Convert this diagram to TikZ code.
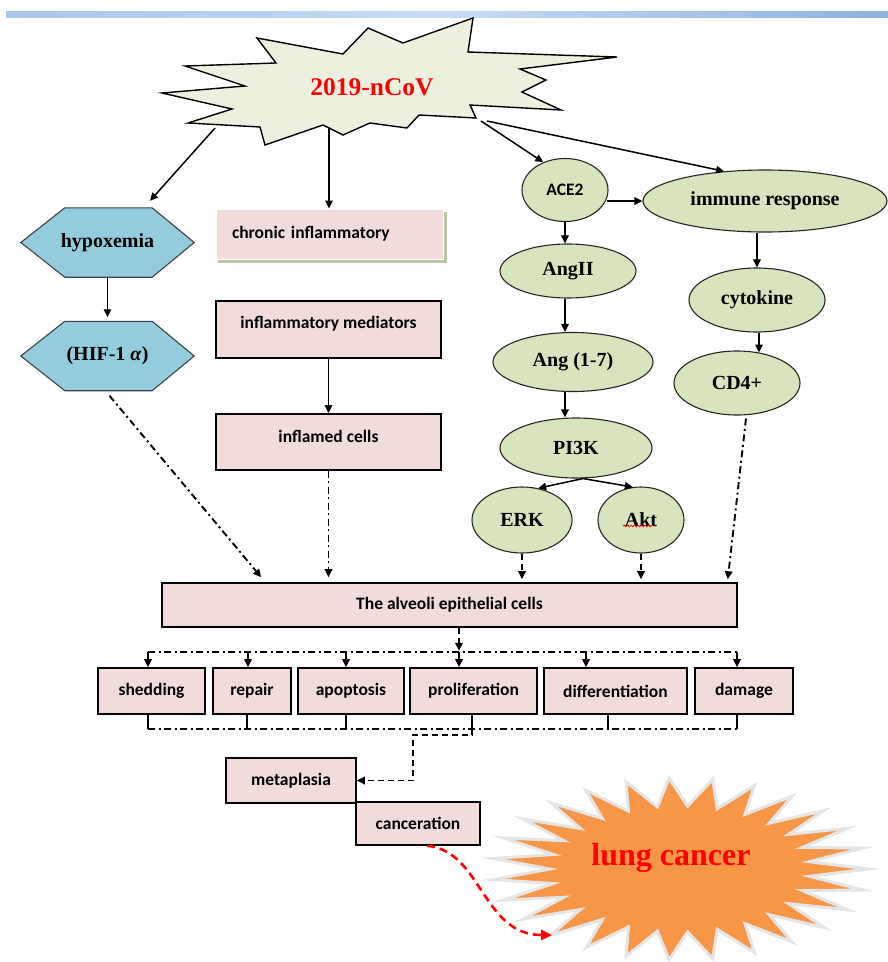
\documentclass[tikz,border=0pt]{standalone}
\usepackage{fontspec}
\setmainfont{Liberation Serif}
\newfontfamily\boxfont{Carlito}
\usetikzlibrary{arrows.meta,calc,shapes.geometric,backgrounds,decorations.pathmorphing}
\definecolor{starfill}{RGB}{235,241,222}
\definecolor{hexfill}{RGB}{147,205,221}
\definecolor{ellfill}{RGB}{215,228,189}
\definecolor{boxfill}{RGB}{242,220,219}
\definecolor{lungfill}{RGB}{247,150,70}
\definecolor{shadowbrown}{RGB}{176,136,100}
\definecolor{barL}{RGB}{168,198,238}
\definecolor{barM}{RGB}{198,219,245}
\definecolor{barR}{RGB}{141,179,226}
\definecolor{chronshadow}{RGB}{188,196,166}
\begin{document}
\begin{tikzpicture}[x=1pt,y=-1pt,
  arr/.style={-{Triangle[length=8pt,width=7.5pt]}},
  ln/.style={line width=1.5pt,black},
  dd/.style={line width=1.9pt,dash pattern=on 7pt off 3.5pt on 2pt off 3.5pt},
  dsh/.style={line width=1.9pt,dash pattern=on 6pt off 4pt},
  serifbold/.style={font=\bfseries\fontsize{20}{24}\selectfont},
  sansbold/.style={font=\boxfont\bfseries\fontsize{17.5}{20}\selectfont},
  ellnode/.style={ellipse,draw=black!85,line width=1.1pt,fill=ellfill,inner sep=0pt,serifbold},
  hexbox/.style={inner sep=0pt,minimum width=173pt,minimum height=69pt,serifbold},
  hexline/.style={draw=black!75,line width=1.1pt,fill=hexfill},
  pbox/.style={draw=black,line width=1.6pt,fill=boxfill,inner sep=0pt,sansbold}]
\useasboundingbox (0,0) rectangle (888,962);
% top bar
\shade[left color=barL,right color=barR,middle color=barM] (6,11) rectangle (888,17);

% 2019-nCoV star
\filldraw[fill=starfill,draw=black,line width=1.4pt]
 (257,38) -- (343,54) -- (368,28) -- (403,43) -- (473,18) -- (468,52) -- (617,57)
 -- (520,69) -- (546,80) -- (522,92) -- (561,110) -- (470,105) -- (476,118)
 -- (419,115) -- (407,128) -- (370,123) -- (343,135) -- (323,125) -- (265,145)
 -- (260,127) -- (188,123) -- (232,109) -- (162,93) -- (245,86) -- (185,66)
 -- (276,63) -- cycle;
\node[text=red,font=\bfseries\fontsize{25.5}{30}\selectfont] (ncov) at (372,87) {2019-nCoV};
\coordinate (sHyp) at (215,128);
\coordinate (sChr) at (329,127);
\coordinate (sAce) at (481,121);
\coordinate (sImm) at (487,121);

% left hexagons
\node[hexbox] (hyp) at (107.5,242.5) {hypoxemia};
\node[hexbox] (hif) at (107.5,356) {(HIF-1 \textit{α})};
\begin{scope}[on background layer]
\foreach \h in {hyp,hif}
  \path[hexline] (\h.west) -- ($(\h.north west)+(44,0)$) -- ($(\h.north east)+(-42,0)$)
    -- (\h.east) -- ($(\h.south east)+(-42,0)$) -- ($(\h.south west)+(44,0)$) -- cycle;
\end{scope}

% middle boxes
\node[fill=boxfill,draw=white,line width=1pt,inner ysep=0pt,inner xsep=16pt,
  text width=195pt,align=left,minimum height=50pt,sansbold] (chr) at (329.5,234) {chronic inflammatory};
\begin{scope}[on background layer]
\fill[chronshadow] ($(chr.north west)+(2,3)$) rectangle ($(chr.south east)+(3,3)$);
\end{scope}
\node[pbox,minimum width=225pt,text height=27.5pt,text depth=29.5pt] (med) at (328.5,329.5) {inflammatory mediators};
\node[pbox,minimum width=225pt,text height=28.5pt,text depth=27.5pt] (inf) at (328.5,442) {inflamed cells};

% right ellipses
\node[ellnode,minimum width=86pt,minimum height=63pt,font=\boxfont\bfseries\fontsize{17.5}{20}\selectfont] (ace2) at (565,190) {ACE2};
\node[ellnode,minimum width=244pt,minimum height=62pt] (imm) at (765,201) {immune response};
\node[ellnode,minimum width=136pt,minimum height=54pt] (ang2) at (568,271) {AngII};
\node[ellnode,minimum width=160pt,minimum height=59pt] (ang17) at (573,362) {Ang (1-7)};
\node[ellnode,minimum width=152pt,minimum height=60pt] (pi3k) at (576,448) {PI3K};
\node[ellnode,minimum width=100pt,minimum height=66pt] (erk) at (522,520) {ERK};
\node[ellnode,minimum width=86pt,minimum height=66pt] (akt) at (641,520) {Akt};
\draw[red,line width=0.7pt,decorate,decoration={snake,amplitude=0.9pt,segment length=3.5pt}]
  ($(akt)+(-18,6)$) -- ($(akt)+(13,6)$);
\node[ellnode,minimum width=136pt,minimum height=64pt] (cyto) at (757,300) {cytokine};
\node[ellnode,minimum width=126pt,minimum height=64pt] (cd4) at (737,383) {CD4+};

% alveoli and fates
\node[pbox,minimum width=575pt,minimum height=44pt] (alv) at (449.5,605) {The alveoli epithelial cells};
\node[pbox,minimum width=107pt,minimum height=46pt] (shed) at (151.5,691) {shedding};
\node[pbox,minimum width=78pt,minimum height=46pt] (repair) at (252,691) {repair};
\node[pbox,minimum width=106pt,minimum height=46pt] (apop) at (351,691) {apoptosis};
\node[pbox,minimum width=127pt,minimum height=46pt] (prolif) at (473.5,691) {proliferation};
\node[pbox,minimum width=143pt,minimum height=46pt] (diff) at (615.5,691) {differentiation};
\node[pbox,minimum width=98pt,minimum height=46pt] (dam) at (744,691) {damage};
\node[pbox,minimum width=130pt,minimum height=45pt] (meta) at (291,780.5) {metaplasia};
\node[pbox,minimum width=124pt,minimum height=43pt] (canc) at (418,823.5) {canceration};

% lung cancer starburst
\coordinate (lungc) at (680,869);
\node[text=red,font=\bfseries\fontsize{32}{36}\selectfont] (lung) at (671,858) {lung cancer};
\begin{scope}[on background layer]
\fill[shadowbrown,shift={(2,3)}] ($(lungc)+(188,0)$)
  \foreach \i [evaluate=\i as \ang using \i*6.6667,
               evaluate=\i as \rx using {ifthenelse(mod(\i,2)==0,188,130)},
               evaluate=\i as \ry using {ifthenelse(mod(\i,2)==0,91,63)}] in {1,...,53}
  { -- ($(lungc)+({\rx*cos(\ang)},{\ry*sin(\ang)})$) } -- cycle;
\filldraw[fill=lungfill,draw=white!90!black,line width=3pt,line join=miter] ($(lungc)+(188,0)$)
  \foreach \i [evaluate=\i as \ang using \i*6.6667,
               evaluate=\i as \rx using {ifthenelse(mod(\i,2)==0,188,130)},
               evaluate=\i as \ry using {ifthenelse(mod(\i,2)==0,91,63)}] in {1,...,53}
  { -- ($(lungc)+({\rx*cos(\ang)},{\ry*sin(\ang)})$) } -- cycle;
\end{scope}

% connectors from the star
\draw[ln,arr] (sHyp) -- ($(hyp.north)+(42.5,-7)$);
\draw[ln,arr] (sChr) -- (sChr |- chr.north);
\draw[ln,arr] (sAce) -- (ace2.128);
\draw[ln,arr] (sImm) -- (imm.144);

% left / middle chains
\draw[ln,arr,shorten >=4pt] (hyp.south) -- (hif.north);
\draw[ln,arr] (med.south) -- (inf.north);
\draw[dd,arr] ($(hif.south)+(2,5)$) -- ($(alv.north west)+(100,-5)$);
\draw[dd,arr,shorten >=5pt] (inf.south) -- (inf.south |- alv.north);

% right chains
\draw[ln,arr] ($(ace2.east)+(-2,11)$) -- (imm.west);
\draw[ln,arr] (ace2.south) -- (ace2.south |- ang2.north);
\draw[ln,arr] (ace2.south |- ang2.south) -- (ace2.south |- ang17.north);
\draw[ln,arr] (ace2.south |- ang17.south) -- (ace2.south |- pi3k.north);
\draw[ln,arr] ($(pi3k.south)+(7,0)$) -- (erk.63);
\draw[ln,arr] ($(pi3k.south)+(7,0)$) -- (akt.104);
\draw[ln,arr] (cyto.north |- imm.south) -- (cyto.north);
\draw[ln,arr] ($(cyto.south)+(2,0)$) -- ($(cyto.south)+(2,20)$);
\draw[dd,arr] ($(cd4.south)+(9,3)$) -- ($(alv.north east)+(-10,-3)$);
\draw[dsh,arr,shorten >=3pt] (erk.south) -- (erk.south |- alv.north);
\draw[dsh,arr,shorten >=3pt] (akt.south) -- (akt.south |- alv.north);

% distribution to fates
\draw[dsh,arr] ($(alv.south)+(9.5,0)$) -- ($(alv.south)+(9.5,23)$);
\draw[dd] ($(shed.north)+(-3.5,-15)$) -- ($(dam.north)+(-7,-15)$);
\foreach \n/\dx in {shed/-3.5,repair/-4,apop/-5,prolif/-14.5,diff/-29.5,dam/-7}
  \draw[ln,arr] ($(\n.north)+(\dx,-15)$) -- ($(\n.north)+(\dx,0)$);

% collection from fates
\draw[dd] ($(shed.south)+(-3.5,14)$) -- ($(dam.south)+(-7,14)$);
\foreach \n/\dx in {shed/-3.5,repair/-5,apop/-5,prolif/-1.5,diff/-7.5,dam/-7}
  \draw[line width=1.3pt] ($(\n.south)+(\dx,0)$) -- ($(\n.south)+(\dx,14)$);
\draw[dsh,arr] ($(prolif.south)+(-1.5,14)$) -- ++(0,6) -- ++(-59,0) |- (meta.east);

% to lung cancer
\draw[red,line width=2.6pt,dash pattern=on 8pt off 5pt,-{Triangle[length=11pt,width=10pt]}]
  ($(canc.south)+(9,0)$) .. controls +(55,5) and +(-70,0) .. ($(lungc)+(-128,66)$);
\end{tikzpicture}
\end{document}
